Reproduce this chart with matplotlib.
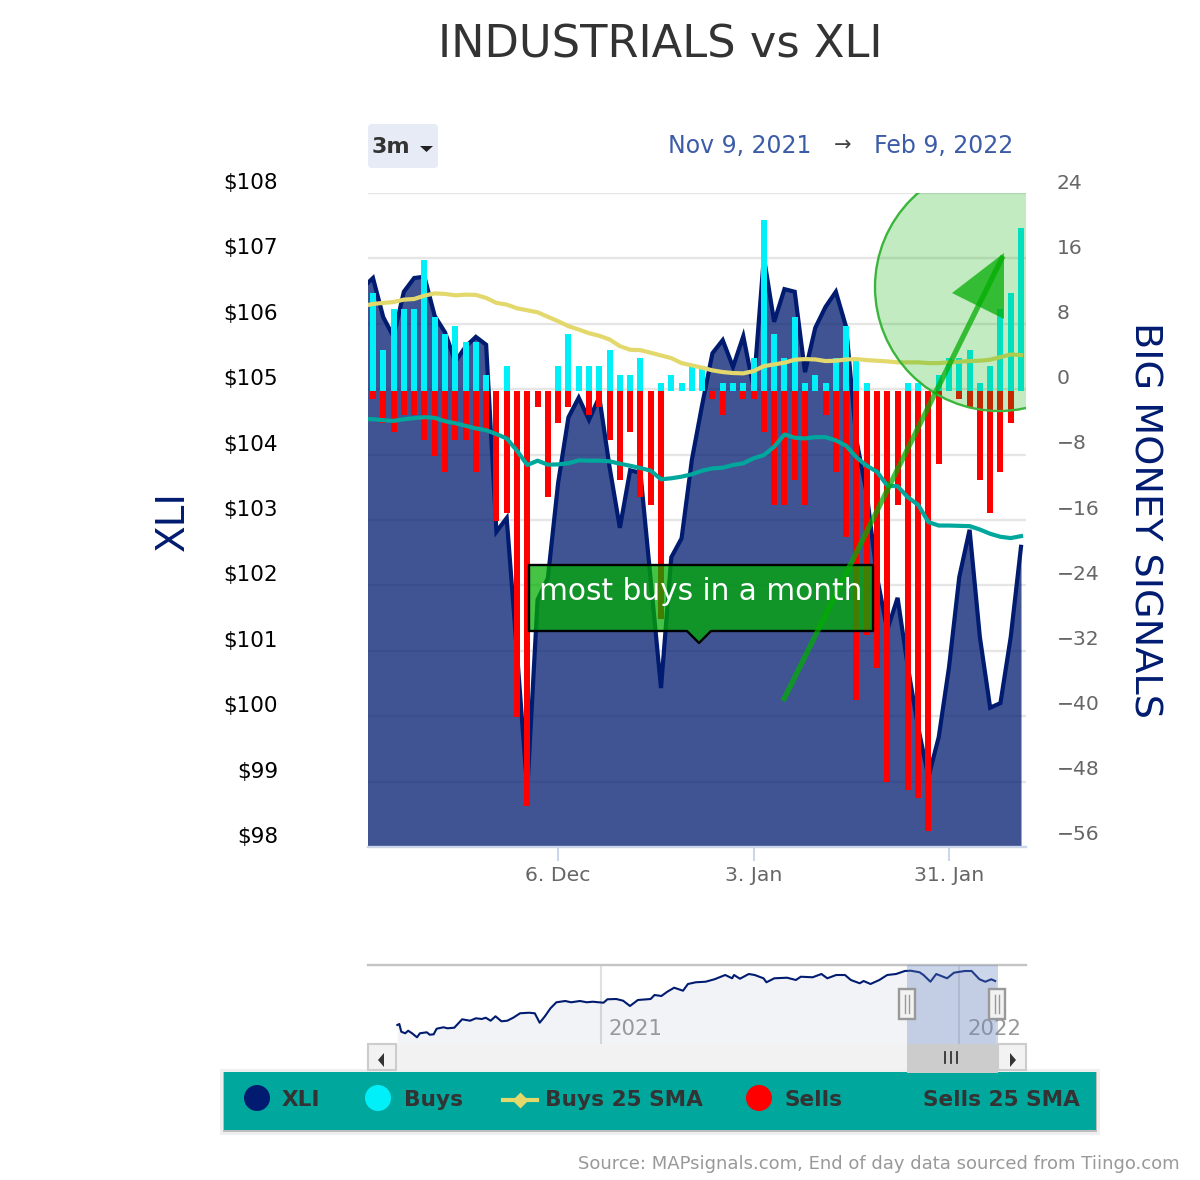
import numpy as np
from matplotlib import pyplot as plt
from matplotlib.patches import Circle, FancyBboxPatch, Polygon, Rectangle

plt.rcParams['font.family'] = ['DejaVu Sans']

# -------------------------------------------------------------------------------
# Data. Day index -1 sits just outside the left edge.
# -------------------------------------------------------------------------------
xli = [106.55, 106.70, 106.10, 105.80, 106.49, 106.70, 106.72, 106.12, 105.87, 105.42, 105.65,
       105.80, 105.68, 102.82, 103.03, 100.97, 98.87, 101.78, 102.11, 103.57, 104.57, 104.87,
       104.53, 104.88, 103.81, 102.88, 103.76, 103.72, 102.08, 100.43, 102.43, 102.72, 103.92,
       104.76, 105.55, 105.75, 105.34, 105.81, 105.02, 107.02, 106.03, 106.53, 106.49, 105.26,
       105.94, 106.26, 106.49, 105.95, 104.22, 103.41, 102.13, 101.32, 101.81, 100.75, 99.83,
       99.07, 99.68, 100.75, 102.13, 102.85, 101.21, 100.13, 100.20, 101.21, 102.59]

buys = [12, 5, 10, 10, 10, 16, 9, 7, 8, 6, 6, 2, 0, 3, 0, 0, 0, 0, 3, 7, 3, 3, 3, 5, 2, 2, 4, 0, 1, 2,
        1, 3, 3, 0, 1, 1, 1, 4, 21, 7, 4, 9, 1, 2, 1, 4, 8, 4, 1, 0, 0, 0, 1, 1, 0, 2, 4, 4, 5, 1, 3,
        10, 12, 20]

sells = [1, 4, 5, 3, 3, 6, 8, 10, 6, 6, 10, 5, 16, 15, 40, 51, 2, 13, 4, 2, 0, 3, 2, 6, 11, 5, 13, 14,
         28, 0, 0, 0, 0, 1, 3, 0, 1, 1, 5, 14, 14, 11, 14, 0, 3, 10, 18, 38, 30, 34, 48, 14, 49, 50,
         54, 9, 0, 1, 2, 11, 15, 10, 4, 0]

buys_sma = [10.40, 10.66, 10.79, 10.90, 11.19, 11.27, 11.68, 11.96, 11.89, 11.72, 11.80, 11.77,
            11.40, 10.79, 10.58, 10.13, 9.88, 9.64, 9.08, 8.54, 7.93, 7.52, 7.07, 6.75, 6.30, 5.48,
            5.04, 4.99, 4.67, 4.34, 4.01, 3.40, 3.12, 2.84, 2.51, 2.30, 2.18, 2.14, 2.42, 3.03, 3.24,
            3.45, 3.82, 3.89, 3.85, 3.65, 3.69, 3.85, 3.89, 3.77, 3.69, 3.61, 3.49, 3.49, 3.49, 3.40,
            3.40, 3.49, 3.57, 3.65, 3.69, 3.82, 4.13, 4.46, 4.38]

sells_sma = [-3.45, -3.49, -3.61, -3.69, -3.49, -3.36, -3.24, -3.32, -3.73, -3.98, -4.30, -4.62,
             -4.83, -5.32, -5.85, -7.36, -9.11, -8.58, -9.07, -9.03, -8.90, -8.54, -8.58, -8.58,
             -8.66, -8.95, -9.20, -9.48, -9.81, -10.86, -10.74, -10.54, -10.25, -9.81, -9.52, -9.44,
             -9.11, -8.90, -8.29, -7.89, -6.87, -5.36, -5.77, -5.85, -5.69, -5.69, -6.09, -6.75,
             -8.17, -9.20, -9.93, -11.65, -11.72, -13.07, -14.00, -16.12, -16.54, -16.54, -16.58,
             -16.61, -17.03, -17.55, -17.92, -18.08, -17.84]

date_ticks = [18, 37, 56]
date_labels = ['6. Dec', '3. Jan', '31. Jan']
price_ticks = [98, 99, 100, 101, 102, 103, 104, 105, 106, 107, 108]
signal_ticks = [-56, -48, -40, -32, -24, -16, -8, 0, 8, 16, 24]

# navigator series, days counted from 1 Jan 2021
nav_days = [-207, -205, -203, -199, -196, -192, -187, -184, -177, -174, -170, -167, -160, -156, -149,
            -141, -133, -127, -121, -117, -112, -107, -101, -95, -89, -82, -73, -67, -62, -57, -51,
            -45, -36, -30, -21, -14, -8, 3, 7, 16, 23, 30, 38, 51, 55, 62, 68, 75, 84, 89, 97, 107,
            116, 127, 134, 136, 142, 151, 157, 166, 169, 177, 190, 199, 204, 216, 225, 231, 240, 249,
            255, 264, 268, 275, 284, 292, 301, 310, 316, 325, 329, 336, 342, 353, 360, 371, 378, 386,
            392, 398, 402]
nav_price = [69.5, 70.2, 64.8, 63.7, 65.5, 63.7, 60.9, 63.7, 64.4, 62.7, 63.0, 66.9, 67.9, 67.2, 67.6,
             73.5, 72.5, 74.2, 73.7, 74.6, 72.5, 75.6, 72.1, 72.5, 74.6, 77.7, 78.1, 77.7, 71.1, 75.3,
             81.2, 85.4, 86.3, 85.4, 86.3, 85.4, 85.8, 85.1, 87.5, 87.7, 86.5, 82.8, 87.0, 87.7, 90.5,
             89.8, 92.8, 95.6, 93.5, 98.2, 99.4, 99.8, 101.5, 104.5, 102.2, 104.5, 101.9, 105.2, 104.5,
             102.2, 99.4, 102.2, 102.6, 101.0, 103.3, 102.9, 105.2, 102.2, 104.5, 104.5, 101.0, 98.7,
             100.3, 98.2, 101.0, 104.5, 105.2, 107.3, 107.5, 106.4, 104.5, 99.8, 105.2, 102.2, 106.1,
             107.3, 107.3, 101.5, 99.8, 101.5, 100.3]
nav_years = [0, 365]
nav_year_labels = ['2021', '2022']

NAVY = '#001b70'
CYAN = '#00f0fa'
RED = '#ff0000'
YELLOW = '#e2d86c'
TEAL = '#00a79d'
ANNOT = (0, 173 / 255, 0, 0.73)

W, H = 1200, 1180


# -------------------------------------------------------------------------------
# Function - axes rectangle from pixel edges of the picture
# -------------------------------------------------------------------------------
def px_axes(fig, left, top, right, bottom):
    return fig.add_axes([left / W, 1 - bottom / H, (right - left) / W, (bottom - top) / H])


# -------------------------------------------------------------------------------
# Function - main chart with price area, signal bars and moving averages
# -------------------------------------------------------------------------------
def draw_main(fig):
    ax = px_axes(fig, 368, 193, 1026, 847)
    days = np.arange(-1, len(xli) - 1)

    ax.set_xlim(-0.486, 63.485)
    ax.set_ylim(98, 108)
    ax.set_yticks(price_ticks)
    ax.set_yticklabels([])
    ax.grid(axis='y', color='#e6e6e6', lw=1.7)
    ax.set_axisbelow(True)
    ax.fill_between(days, xli, 90, color=NAVY, alpha=0.75, lw=0)
    ax.plot(days, xli, color=NAVY, lw=3, solid_joinstyle='miter')

    for side in ['top', 'left', 'right']:
        ax.spines[side].set_visible(False)
    ax.spines['bottom'].set_color('#ccd6eb')
    ax.spines['bottom'].set_linewidth(1.7)
    ax.set_xticks(date_ticks)
    ax.set_xticklabels(date_labels, fontsize=14.7, color='#666666')
    ax.tick_params(axis='x', length=10, width=1.5, color='#ccd6eb', pad=4)
    ax.tick_params(axis='y', length=0)

    for val in price_ticks:
        ax.annotate(f'${val}', xy=(0, val), xycoords=ax.get_yaxis_transform(),
                    xytext=(-90 * 0.72, 10 * 0.72), textcoords='offset points',
                    ha='right', va='center', fontsize=15.5, color='black')

    ax2 = ax.twinx()
    ax2.set_ylim(-55.72, 24.28)
    ax2.set_yticks(signal_ticks)
    ax2.set_yticklabels([])
    ax2.tick_params(axis='y', length=0)
    for side in ['top', 'left', 'right', 'bottom']:
        ax2.spines[side].set_visible(False)

    bar_days = np.arange(len(buys))
    ax2.bar(bar_days, buys, width=0.583, color=CYAN, lw=0)
    ax2.bar(bar_days, -np.array(sells), width=0.583, color=RED, lw=0)
    ax2.plot(days, buys_sma, color=YELLOW, lw=3)
    ax2.plot(days, sells_sma, color=TEAL, lw=3)

    for val in signal_ticks:
        label = str(val).replace('-', '\u2212')
        ax2.annotate(label, xy=(1, val), xycoords=ax2.get_yaxis_transform(),
                     xytext=(31 * 0.72, 12 * 0.72), textcoords='offset points',
                     ha='left', va='center', fontsize=14.6, color='#666666')


# -------------------------------------------------------------------------------
# Function - small overview chart under the main one
# -------------------------------------------------------------------------------
def draw_navigator(fig):
    nav = px_axes(fig, 368, 965, 1026, 1044)
    nav.set_xlim(-236.9, 433.4)
    nav.set_ylim(56.2, 111.5)
    nav.fill_between(nav_days, nav_price, 0, color=NAVY, alpha=0.05, lw=0)
    nav.plot(nav_days, nav_price, color=NAVY, lw=1.5)
    nav.set_xticks(nav_years)
    nav.set_xticklabels([])
    nav.set_yticks([])
    nav.grid(axis='x', color='#e0e0e0', lw=1.5)
    nav.set_axisbelow(True)
    nav.tick_params(axis='x', length=0)
    for side in ['left', 'right', 'bottom']:
        nav.spines[side].set_visible(False)
    nav.spines['top'].set_color('#c4c4c4')
    nav.spines['top'].set_linewidth(1.7)
    for day, label in zip(nav_years, nav_year_labels):
        nav.annotate(label, xy=(day, 0), xycoords=nav.get_xaxis_transform(),
                     xytext=(6, 11), textcoords='offset points',
                     ha='left', va='center', fontsize=15.3, color='#999999')


# -------------------------------------------------------------------------------
# Function - everything that lives in picture pixels: titles, annotation, legend
# -------------------------------------------------------------------------------
def draw_overlay(fig):
    ov = fig.add_axes([0, 0, 1, 1])
    ov.set_xlim(0, W)
    ov.set_ylim(H, 0)
    ov.axis('off')
    ov.patch.set_alpha(0)

    ov.text(660, 45, 'INDUSTRIALS vs XLI', ha='center', va='center', fontsize=32.2, color='#333333')
    ov.text(173, 521, 'XLI', rotation=90, ha='center', va='center', fontsize=28, color=NAVY)
    ov.text(1145, 520, 'BIG MONEY SIGNALS', rotation=270, ha='center', va='center', fontsize=27.5, color=NAVY)

    # range selector and dates
    ov.add_patch(FancyBboxPatch((368, 124), 70, 44, boxstyle='round,pad=0,rounding_size=4',
                                fc='#e6ebf5', ec='none'))
    ov.text(372, 147, '3m', ha='left', va='center', fontsize=16, fontweight='bold', color='#333333')
    ov.add_patch(Polygon([(420, 146), (433, 146), (426.5, 152)], fc='#222222', ec='none'))
    ov.text(668, 146, 'Nov 9, 2021', ha='left', va='center', fontsize=17, color='#3c5ca8')
    ov.text(843, 145, '\u2192', ha='center', va='center', fontsize=15, color='#444444')
    ov.text(1013, 146, 'Feb 9, 2022', ha='right', va='center', fontsize=17, color='#3c5ca8')

    # highlighted circle and arrow
    clip = Rectangle((368, 193), 658, 654, transform=ov.transData)
    ring = Circle((999, 287), 124, fc=(0, 173 / 255, 0, 0.24), ec='#3cb53c', lw=1.7)
    ov.add_patch(ring)
    ring.set_clip_path(clip)
    ov.plot([783, 1003], [701, 256], color=ANNOT, lw=3.8, solid_capstyle='butt')
    ov.add_patch(Polygon([(952, 293), (1004, 253), (1004, 319)], fc=ANNOT, ec='none'))

    # tooltip
    ov.add_patch(Polygon([(529, 565), (873, 565), (873, 631), (711, 631), (699, 643), (687, 631), (529, 631)],
                         fc=ANNOT, ec='black', lw=1.7, joinstyle='round'))
    ov.text(700.5, 592, 'most buys in a month', ha='center', va='center', fontsize=21.3, color='white')

    # navigator mask and handles
    ov.add_patch(Rectangle((907, 965), 91, 79, fc='#6685c2', alpha=0.33, ec='none'))
    for hx in [899, 989]:
        ov.add_patch(Rectangle((hx, 989), 16, 30, fc='#f2f2f2', ec='#999999', lw=1.7))
        for off in [6, 10]:
            ov.plot([hx + off, hx + off], [995, 1013], color='#999999', lw=1)

    # legend
    ov.add_patch(Rectangle((220, 1069), 880, 66, fc='#efefef', ec='none'))
    ov.add_patch(Rectangle((223, 1072), 874, 60, fc='#bdbdbd', ec='none'))
    ov.add_patch(Rectangle((224, 1072), 872, 58, fc=TEAL, ec='none'))
    ov.add_patch(Circle((257, 1098), 13, fc=NAVY, ec='none'))
    ov.add_patch(Circle((378, 1098), 13, fc=CYAN, ec='none'))
    ov.add_patch(Circle((759, 1098), 13, fc=RED, ec='none'))
    ov.plot([503, 537], [1100, 1100], color=YELLOW, lw=3)
    ov.plot([520], [1100], marker='D', ms=8, color=YELLOW, mec='none')
    for lx, name in [(282, 'XLI'), (404, 'Buys'), (545, 'Buys 25 SMA'), (784, 'Sells'), (923, 'Sells 25 SMA')]:
        ov.text(lx, 1100.5, name, ha='left', va='center', fontsize=15.6, fontweight='bold', color='#333333')

    # scrollbar sits on the legend's top edge
    ov.add_patch(Rectangle((396, 1044), 602, 25, fc='#f2f2f2', ec='none'))
    for bx in [368, 998]:
        ov.add_patch(Rectangle((bx, 1044), 28, 26, fc='#f2f2f2', ec='#cccccc', lw=1.5))
    ov.add_patch(Rectangle((907, 1044), 91, 29, fc='#cccccc', ec='none'))
    for gx in [945, 951, 957]:
        ov.plot([gx, gx], [1052, 1063], color='#333333', lw=1.3)
    ov.add_patch(Polygon([(384, 1053), (384, 1067), (378, 1060)], fc='#333333', ec='none'))
    ov.add_patch(Polygon([(1010, 1053), (1010, 1067), (1016, 1060)], fc='#333333', ec='none'))

    ov.text(1180, 1164, 'Source: MAPsignals.com, End of day data sourced from Tiingo.com',
            ha='right', va='center', fontsize=13, color='#999999')


def main():
    fig = plt.figure(figsize=(W / 100, H / 100), dpi=100)
    draw_main(fig)
    draw_navigator(fig)
    draw_overlay(fig)
    fig.savefig('out.png', dpi=100)


if __name__ == '__main__':
    main()
